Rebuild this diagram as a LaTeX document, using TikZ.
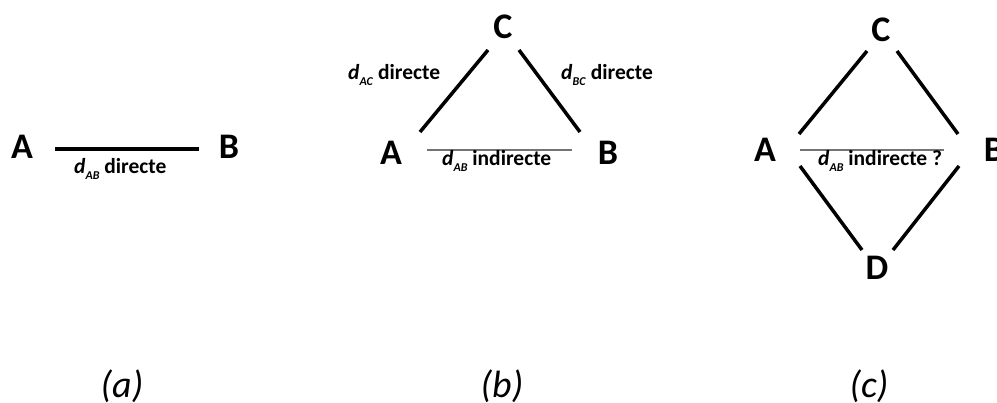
\documentclass[tikz,border=0pt]{standalone}
\usepackage{fontspec}
\setmainfont{Carlito}
\newcommand\dsub[1]{\textit{d}\raisebox{-6pt}{\fontsize{12}{12}\selectfont\textit{#1}}}
\begin{document}
\begin{tikzpicture}[x=1pt,y=-1pt,
  lettre/.style={font=\fontsize{36}{36}\selectfont\bfseries, anchor=base, inner sep=0pt},
  etiq/.style={font=\fontsize{21.5}{21.5}\selectfont\bfseries, anchor=base west, inner sep=0pt},
  legende/.style={font=\fontsize{38}{38}\selectfont\itshape, anchor=base, inner sep=0pt},
  trait/.style={line width=3.5pt},
  fin/.style={line width=1.2pt, draw=black!55}]
\useasboundingbox (0,0) rectangle (997,403);
% (a)
\node[lettre] (A1) at (22,159) {A};
\node[lettre] (B1) at (229,159) {B};
\coordinate (a1s) at (55,149);
\coordinate (a1e) at (199,149);
\draw[trait] (a1s) -- (a1e);
\node[etiq] (la) at (74,174) {\dsub{AB} directe};
\node[legende] (ca) at (122,398) {(a)};
% (b)
\node[lettre] (C2) at (503,39) {C};
\node[lettre] (A2) at (391,165) {A};
\node[lettre] (B2) at (608,165) {B};
\coordinate (b1) at (420,132);
\coordinate (b2) at (488,50);
\coordinate (b3) at (519,50);
\coordinate (b4) at (580,132);
\coordinate (b5) at (427,150);
\coordinate (b6) at (572,150);
\draw[trait] (b1) -- (b2);
\draw[trait] (b3) -- (b4);
\draw[fin] (b5) -- (b6);
\node[etiq] (lac) at (348,80) {\dsub{AC} directe};
\node[etiq] (lbc) at (561,80) {\dsub{BC} directe};
\begin{scope}
\clip (400,140) rectangle (600,171);
\node[etiq] (lb) at (442,166) {\dsub{AB} indirecte};
\end{scope}
\node[legende] (cb) at (502,398) {(b)};
% (c)
\node[lettre] (C3) at (881,42) {C};
\node[lettre] (A3) at (765,162) {A};
\node[lettre] (B3) at (994,162) {B};
\node[lettre] (D3) at (877,280) {D};
\coordinate (c1) at (799,134);
\coordinate (c2) at (867,51);
\coordinate (c3) at (897,51);
\coordinate (c4) at (958,134);
\coordinate (c5) at (800,166);
\coordinate (c6) at (862,250);
\coordinate (c7) at (893,250);
\coordinate (c8) at (959,166);
\coordinate (c9) at (800,150);
\coordinate (c10) at (944,150);
\draw[trait] (c1) -- (c2);
\draw[trait] (c3) -- (c4);
\draw[trait] (c5) -- (c6);
\draw[trait] (c7) -- (c8);
\draw[fin] (c9) -- (c10);
\node[etiq] (lc) at (818,166) {\dsub{AB} indirecte ?};
\node[legende] (cc) at (869,398) {(c)};
\end{tikzpicture}
\end{document}
